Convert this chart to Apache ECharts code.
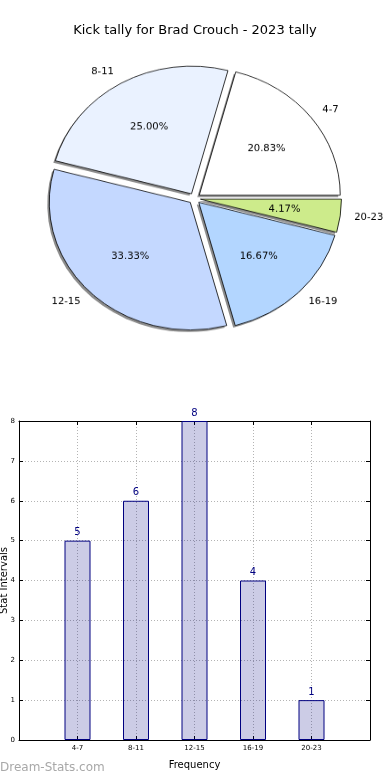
<!DOCTYPE html>
<html>
<head>
<meta charset="utf-8">
<script src="https://cdn.jsdelivr.net/npm/echarts@6/dist/echarts.min.js"></script>
<style>
html,body{margin:0;padding:0;background:#fff;overflow:hidden;width:390px;height:780px;}
#bar{position:absolute;left:0;top:0;width:390px;height:780px;}
#pie{position:absolute;left:0;top:0;width:390px;height:440px;transform:scaleY(0.905);transform-origin:0 0;}
</style>
</head>
<body>
<div id="bar"></div>
<div id="pie"></div>
<script>
// ---- data ----
const titleText = 'Kick tally for Brad Crouch - 2023 tally';
const categories = ['4-7', '8-11', '12-15', '16-19', '20-23'];
const counts = [5, 6, 8, 4, 1];
const pieColors = ['#ffffff', '#eaf2ff', '#c4d8ff', '#b3d6ff', '#cdeb8b'];
const yTicks = [0, 1, 2, 3, 4, 5, 6, 7, 8];

const FONT = 'DejaVu Sans';
const total = counts.reduce((a, b) => a + b, 0);

// ---- pie ----
const R = 141;
const C = [194.5, 219.3];
const OFF = 6;
const common = {
  type: 'pie', startAngle: 0, clockwise: false,
  selectedMode: 'multiple', selectedOffset: OFF, silent: true,
  avoidLabelOverlap: false, emphasis: { disabled: true }
};

const pie = echarts.init(document.getElementById('pie'));
pie.setOption({
  animation: false,
  textStyle: { fontFamily: FONT },
  series: [
    Object.assign({}, common, {
      z: 1, radius: R, center: [C[0] - 2, C[1] + 2.2],
      itemStyle: { color: '#8c8c8c', borderWidth: 0 },
      label: { show: false }, labelLine: { show: false },
      data: categories.map((c, i) => ({ name: c, value: counts[i], selected: true }))
    }),
    Object.assign({}, common, {
      z: 2, radius: R, center: C,
      itemStyle: { borderColor: '#000', borderWidth: 0.8 },
      label: {
        show: true, position: 'outside', color: '#000', fontSize: 10, fontFamily: FONT,
        distanceToLabelLine: 0, bleedMargin: 0, overflow: 'none',
        formatter: p => p.name
      },
      labelLine: { show: false, length: R * 0.1, length2: 0 },
      data: categories.map((c, i) => ({
        name: c, value: counts[i], selected: true, itemStyle: { color: pieColors[i] }
      }))
    }),
    Object.assign({}, common, {
      z: 3, radius: R * 1.16, center: C,
      itemStyle: { color: 'rgba(0,0,0,0)', borderWidth: 0 },
      label: {
        show: true, position: 'inside', color: '#000', fontSize: 10, fontFamily: FONT,
        formatter: p => (p.value / total * 100).toFixed(2) + '%'
      },
      labelLine: { show: false },
      data: categories.map((c, i) => ({ name: c, value: counts[i], selected: true }))
    })
  ]
});

// ---- bar ----
const bar = echarts.init(document.getElementById('bar'));
const gridLine = { show: true, lineStyle: { color: '#b4b4b4', type: [1, 2], width: 1 } };
bar.setOption({
  animation: false,
  textStyle: { fontFamily: FONT },
  title: {
    text: titleText, left: 'center', top: 19,
    textStyle: { fontSize: 13, fontWeight: 'normal', color: '#000', fontFamily: FONT }
  },
  graphic: [{
    type: 'text', left: 0, top: 762,
    style: { text: 'Dream-Stats.com', fill: '#a8a8a8', font: '12px "DejaVu Sans"' }
  }],
  grid: { left: 19, right: 20, top: 421, bottom: 40, containLabel: false, outerBoundsMode: 'none' },
  xAxis: [
    {
      type: 'value', min: 0, max: categories.length + 1, interval: 1, position: 'bottom',
      axisLine: { show: true, lineStyle: { color: '#000', width: 1 } },
      axisTick: { show: true, inside: true, length: 4, lineStyle: { color: '#000' } },
      axisLabel: { fontSize: 7, color: '#000', margin: 5, formatter: v => categories[v - 1] || '' },
      splitLine: gridLine,
      name: 'Frequency', nameLocation: 'middle', nameGap: 20, nameMoveOverlap: false,
      nameTextStyle: { fontSize: 10, color: '#000' }
    },
    {
      type: 'value', min: 0, max: categories.length + 1, interval: 1, position: 'top',
      axisLine: { show: true, onZero: false, lineStyle: { color: '#000', width: 1 } },
      axisTick: { show: true, inside: true, length: 4, lineStyle: { color: '#000' } },
      axisLabel: { show: false }, splitLine: { show: false }
    }
  ],
  yAxis: [
    {
      type: 'value', min: yTicks[0], max: yTicks[yTicks.length - 1], interval: 1,
      axisLine: { show: true, lineStyle: { color: '#000', width: 1 } },
      axisTick: { show: true, inside: true, length: 4, lineStyle: { color: '#000' } },
      axisLabel: { fontSize: 7, color: '#000', margin: 4 },
      splitLine: gridLine,
      name: 'Stat Intervals', nameLocation: 'middle', nameGap: 10, nameMoveOverlap: false,
      nameTextStyle: { fontSize: 10, color: '#000' }
    },
    {
      type: 'value', min: yTicks[0], max: yTicks[yTicks.length - 1], interval: 1, position: 'right',
      axisLine: { show: true, onZero: false, lineStyle: { color: '#000', width: 1 } },
      axisTick: { show: true, inside: true, length: 4, lineStyle: { color: '#000' } },
      axisLabel: { show: false }, splitLine: { show: false }
    }
  ],
  series: [{
    type: 'bar', xAxisIndex: 0, yAxisIndex: 0, barWidth: 26,
    itemStyle: { color: 'rgba(0,0,128,0.2)', borderColor: '#000080', borderWidth: 1 },
    label: { show: true, position: 'top', distance: 3, color: '#000080', fontSize: 10 },
    data: categories.map((c, i) => [i + 1, counts[i]])
  }]
});
</script>
</body>
</html>
